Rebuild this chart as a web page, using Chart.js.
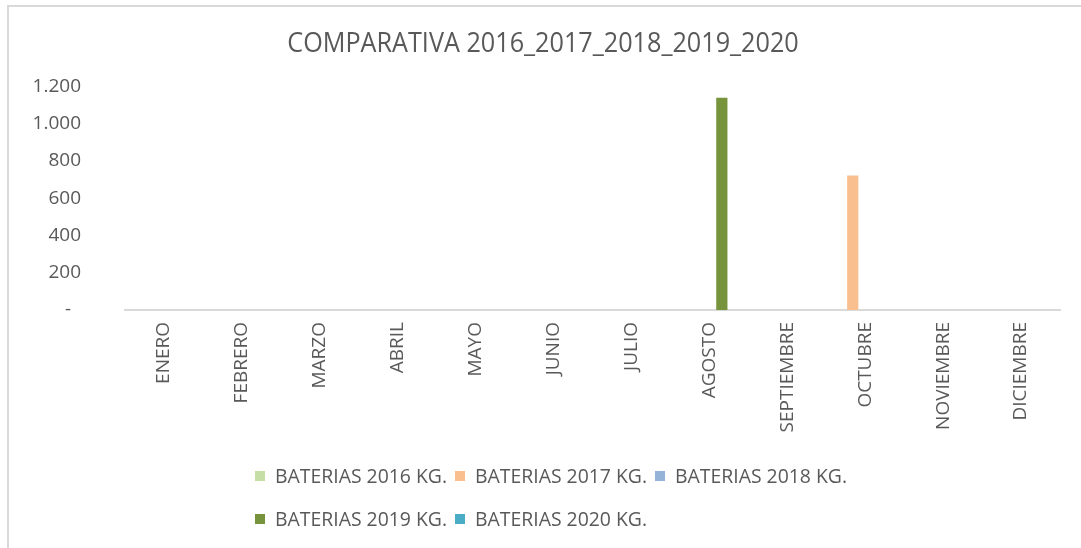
<!DOCTYPE html>
<html>
<head>
<meta charset="utf-8">
<script src="https://cdn.jsdelivr.net/npm/chart.js@4.4.1/dist/chart.umd.min.js"></script>
<style>
  html, body { margin: 0; padding: 0; background: #fff; }
  #wrap { position: relative; width: 1081px; height: 548px; overflow: hidden; }
  #frame { position: absolute; left: 7px; top: 5px; right: -2px; bottom: -2px;
           border-left: 2px solid #d9d9d9; border-top: 2px solid #d9d9d9; }
  #chart { position: absolute; left: 0; top: 0; }
  #legend { position: absolute; left: 255px; top: 463px; width: 660px;
            font-family: "Open Sans", sans-serif; font-size: 19.4px; color: #595959;
            display: flex; flex-wrap: wrap; row-gap: 17px; }
  #legend span.item { display: inline-flex; align-items: center; margin-right: 8px; white-space: nowrap; line-height: 26px; }
  #legend span.box { display: inline-block; width: 10px; height: 10px; margin-right: 10px; }
</style>
</head>
<body>
<div id="wrap">
  <div id="frame"></div>
  <canvas id="chart" width="1081" height="548"></canvas>
  <div id="legend"></div>
</div>
<script>
const meses = ['ENERO', 'FEBRERO', 'MARZO', 'ABRIL', 'MAYO', 'JUNIO', 'JULIO',
  'AGOSTO', 'SEPTIEMBRE', 'OCTUBRE', 'NOVIEMBRE', 'DICIEMBRE'];

const kg2016 = [0, 0, 0, 0, 0, 0, 0, 0, 0, 0, 0, 0];
const kg2017 = [0, 0, 0, 0, 0, 0, 0, 0, 0, 722, 0, 0];
const kg2018 = [0, 0, 0, 0, 0, 0, 0, 0, 0, 0, 0, 0];
const kg2019 = [0, 0, 0, 0, 0, 0, 0, 1140, 0, 0, 0, 0];
const kg2020 = [0, 0, 0, 0, 0, 0, 0, 0, 0, 0, 0, 0];

const series = [
  { label: 'BATERIAS 2016 KG.', data: kg2016, color: '#c5dea5' },
  { label: 'BATERIAS 2017 KG.', data: kg2017, color: '#f9bf8e' },
  { label: 'BATERIAS 2018 KG.', data: kg2018, color: '#95b3d7' },
  { label: 'BATERIAS 2019 KG.', data: kg2019, color: '#77933c' },
  { label: 'BATERIAS 2020 KG.', data: kg2020, color: '#4bacc6' }
];

const txt = '#595959';
const font = '"Open Sans", sans-serif';

// horizontal squeeze for the title so it reads like a narrow font
const squeezeBySize = { 28: 0.9 };

// accounting style number: 1.200, zero shown as a dash with trailing space
function fmt(v) {
  if (v === 0) return '-  ';
  return v.toString().replace(/\B(?=(\d{3})+(?!\d))/g, '.');
}

const ctx = document.getElementById('chart').getContext('2d');

const baseFillText = ctx.fillText;
ctx.fillText = function (t, x, y, w) {
  const m = /(\d+)px/.exec(this.font);
  const sx = m && squeezeBySize[m[1]];
  if (!sx) {
    if (w === undefined) baseFillText.call(this, t, x, y);
    else baseFillText.call(this, t, x, y, w);
    return;
  }
  this.save();
  this.translate(x, y);
  this.scale(sx, 1);
  baseFillText.call(this, t, 0, 0);
  this.restore();
};

const chart = new Chart(ctx, {
  type: 'bar',
  data: {
    labels: meses,
    datasets: series.map(s => ({
      label: s.label,
      data: s.data,
      backgroundColor: s.color,
      borderWidth: 0
    }))
  },
  options: {
    responsive: false,
    animation: false,
    layout: { padding: { left: 26, right: 21, top: 0, bottom: 108 } },
    plugins: {
      legend: { display: false },
      tooltip: { enabled: false },
      title: {
        display: true,
        text: 'COMPARATIVA 2016_2017_2018_2019_2020',
        color: txt,
        font: { family: font, size: 28, weight: 'normal' },
        padding: { top: 27, bottom: 26 }
      }
    },
    scales: {
      x: {
        grid: { display: false, drawTicks: false },
        border: { display: true, color: '#d9d9d9', width: 2 },
        ticks: {
          color: txt,
          font: { family: font, size: 19 },
          maxRotation: 90,
          minRotation: 90,
          padding: 12
        },
        afterFit: scale => { scale.height = 130; }
      },
      y: {
        min: 0,
        max: 1200,
        grid: { display: false, drawTicks: false },
        border: { display: false },
        ticks: {
          stepSize: 200,
          color: txt,
          font: { family: font, size: 19 },
          padding: 44,
          callback: v => fmt(v)
        },
        afterFit: scale => { scale.width = 99; }
      }
    }
  }
});

// legend rows are left-aligned like the spreadsheet legend
const legend = document.getElementById('legend');
chart.data.datasets.forEach(ds => {
  const item = document.createElement('span');
  item.className = 'item';
  const box = document.createElement('span');
  box.className = 'box';
  box.style.background = ds.backgroundColor;
  item.appendChild(box);
  item.appendChild(document.createTextNode(ds.label));
  legend.appendChild(item);
});
</script>
</body>
</html>
